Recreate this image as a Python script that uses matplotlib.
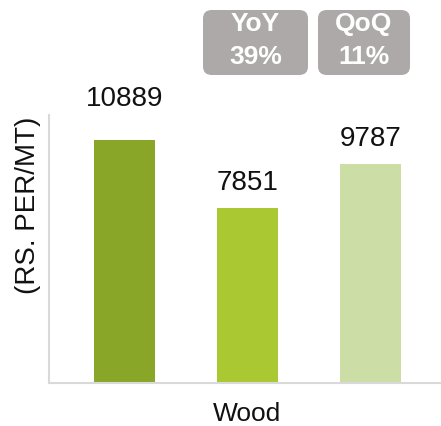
import matplotlib
matplotlib.use('Agg')
import matplotlib.pyplot as plt
from matplotlib.patches import FancyBboxPatch

plt.rcParams['font.family'] = ['Liberation Sans', 'DejaVu Sans']

# data
categories = ['Q-1', 'Q-2', 'Q-3']
values = [10889, 7851, 9787]
bar_colors = ['#89A628', '#A9C831', '#CCDDA5']
xlabel = 'Wood'
ylabel = '(RS. PER/MT)'
badges = [('YoY', '39%'), ('QoQ', '11%')]

W, H = 441, 426
fig = plt.figure(figsize=(W / 100., H / 100.), dpi=100)
ax = fig.add_axes([49. / W, 1 - 383. / H, (441. - 49.) / W, (383. - 115.) / H])

xlocs = list(range(len(values)))
ax.bar(xlocs, values, 0.5, color=bar_colors)
ax.set_xlim(-0.614, 2.573)
ax.set_ylim(0, 12000)

# label gaps above bars (points), first one sits higher in the original
label_pads = [24.5, 13, 13]
for x, v, pad in zip(xlocs, values, label_pads):
    ax.annotate(str(v), (x, v), xytext=(0, pad), textcoords='offset points',
                ha='center', va='baseline', fontsize=20, color='#111111')

# decorate a bit
for s in ['top', 'right']:
    ax.spines[s].set_visible(False)
for s in ['left', 'bottom']:
    ax.spines[s].set_color('#D9D9D9')
    ax.spines[s].set_linewidth(1.5)
ax.set_xticks([])
ax.set_yticks([])

fig.text(247. / W, 1 - 414. / H, xlabel, ha='center', va='center', fontsize=19, color='#111111')
fig.text(28. / W, 1 - 205. / H, ylabel, ha='center', va='center', rotation=90,
         fontsize=20, color='#111111')

# badges
boxes = [(203, 308), (318, 410)]
for (x0, x1), (top, bottom) in zip(boxes, badges):
    p = FancyBboxPatch((x0 / float(W), 1 - 75. / H), (x1 - x0) / float(W), 65. / H,
                       boxstyle='round,pad=0,rounding_size=0.02',
                       transform=fig.transFigure, facecolor='#ADA9A9', edgecolor='none')
    fig.patches.append(p)
    cx = (x0 + x1) / 2. / W
    fig.text(cx, 1 - 24. / H, top, ha='center', va='center', fontsize=19,
             fontweight='bold', color='white')
    fig.text(cx, 1 - 57. / H, bottom, ha='center', va='center', fontsize=19,
             fontweight='bold', color='white')

plt.savefig('out.png', dpi=100)
